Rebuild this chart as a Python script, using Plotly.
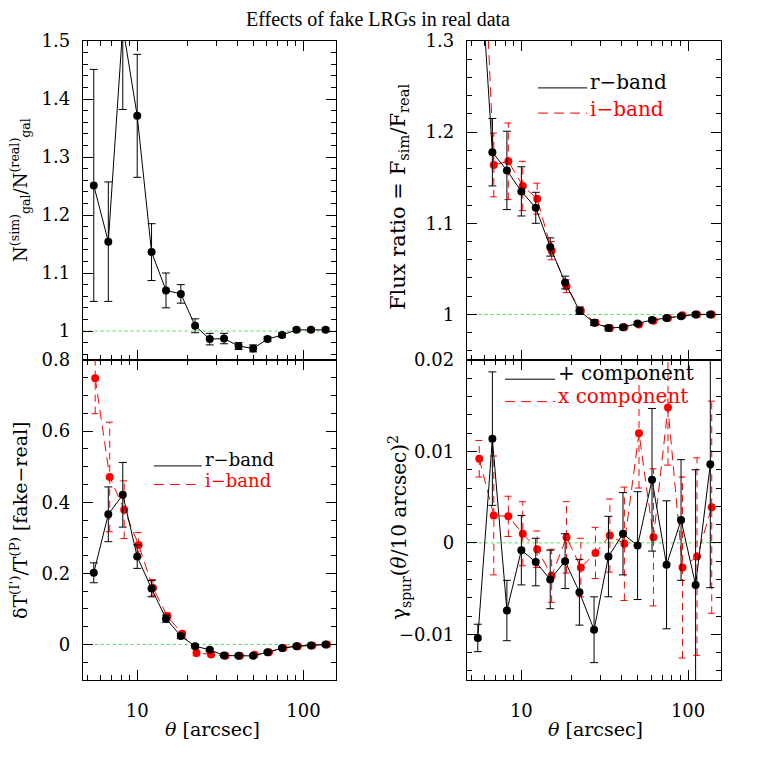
import numpy as np
import plotly.graph_objects as go

# ---------------- data ----------------
theta = [5.48, 6.70, 8.19, 10.0, 12.2, 14.9, 18.3, 22.3, 27.3, 33.3, 40.7, 49.8, 60.8, 74.3, 90.8, 111.0, 136.0]

ngal_ratio = [1.251, 1.154, 1.525, 1.371, 1.136, 1.070, 1.064, 1.009, 0.986, 0.987, 0.974, 0.970, 0.986, 0.993, 1.002, 1.002, 1.002]
ngal_err = [0.200, 0.103, 0.143, 0.106, 0.049, 0.030, 0.016, 0.012, 0.010, 0.009, 0.006, 0.006, 0.004, 0.004, 0.003, 0.003, 0.003]

flux_r = [1.43, 1.178, 1.158, 1.135, 1.117, 1.074, 1.035, 1.004, 0.991, 0.985, 0.986, 0.990, 0.994, 0.996, 0.998, 1.000, 1.000]
flux_r_err = [0.05, 0.037, 0.043, 0.027, 0.017, 0.010, 0.007, 0.004, 0.003, 0.003, 0.002, 0.002, 0.002, 0.002, 0.002, 0.002, 0.002]
flux_i = [1.53, 1.164, 1.168, 1.141, 1.127, 1.070, 1.031, 1.004, 0.991, 0.985, 0.986, 0.989, 0.993, 0.996, 0.999, 1.000, 1.000]
flux_i_err = [0.05, 0.035, 0.042, 0.027, 0.017, 0.010, 0.007, 0.004, 0.003, 0.003, 0.002, 0.002, 0.002, 0.002, 0.002, 0.002, 0.002]

dT_r = [0.2015, 0.366, 0.421, 0.247, 0.157, 0.0725, 0.0235, -0.005, -0.015, -0.031, -0.032, -0.032, -0.022, -0.010, -0.005, -0.003, 0.0]
dT_r_err = [0.028, 0.077, 0.091, 0.033, 0.023, 0.010, 0.007, 0.005, 0.004, 0.004, 0.004, 0.004, 0.003, 0.003, 0.003, 0.003, 0.003]
dT_i = [0.749, 0.471, 0.379, 0.280, 0.159, 0.079, 0.030, -0.024, -0.028, -0.032, -0.032, -0.029, -0.022, -0.010, -0.005, -0.003, 0.0]
dT_i_err = [0.100, 0.154, 0.081, 0.035, 0.023, 0.010, 0.007, 0.008, 0.005, 0.004, 0.004, 0.004, 0.003, 0.003, 0.003, 0.003, 0.003]

gam_plus = [-0.0104, 0.0114, -0.0074, -0.0008, -0.0021, -0.0040, -0.0020, -0.0054, -0.0095, -0.0015, 0.0010, -0.0003, 0.0069, -0.0024, 0.0025, -0.0046, 0.0086]
gam_plus_err = [0.0015, 0.0073, 0.0033, 0.0038, 0.0026, 0.0032, 0.0030, 0.0036, 0.0036, 0.0044, 0.0045, 0.0059, 0.0078, 0.0070, 0.0066, 0.0126, 0.0135]
gam_x = [0.0092, 0.0030, 0.0029, 0.0010, -0.0007, -0.0036, 0.0006, -0.0027, -0.0011, 0.0008, -0.0001, 0.0120, 0.0006, 0.0148, -0.0027, -0.0015, 0.0039]
gam_x_err = [0.0020, 0.0065, 0.0022, 0.0035, 0.0020, 0.0029, 0.0039, 0.0032, 0.0028, 0.0040, 0.0062, 0.0060, 0.0075, 0.0063, 0.0099, 0.0108, 0.0116]

# ---------------- style ----------------
OFF = 8            # page body margin of the browser
W = H = 761 - 2 * OFF
SERIF = "DejaVu Serif"
TICKFONT = dict(family=SERIF, size=18, color="black")
DODGE = 1.02   # slight horizontal offset of the red series
CAPF = 1.055   # cap half-width factor on the log axis
RED = "#ff0000"


def fx(xp):
    return (xp - OFF) / W


def fy(yp):
    return 1 - (yp - OFF) / H


fig = go.Figure()

dom_x = {"L": [fx(82.7), fx(336.0)], "R": [fx(466.7), fx(720.7)]}
dom_y = {"T": [fy(360.0), fy(41.0)], "B": [fy(680.0), fy(360.0)]}


def black_series(xa, ya, x, y, e):
    fig.add_trace(go.Scatter(
        x=x, y=y, mode="lines+markers", xaxis=xa, yaxis=ya,
        line=dict(color="black", width=1),
        marker=dict(color="black", size=8),
        error_y=dict(type="data", array=e, color="black", thickness=1, width=4),
        showlegend=False, cliponaxis=True))


def red_series(xa, ya, x, y, e):
    xr = [v * DODGE for v in x]
    ex, ey = [], []
    for xi, yi, ei in zip(xr, y, e):
        ex += [xi, xi, None, xi / CAPF, xi * CAPF, None, xi / CAPF, xi * CAPF, None]
        ey += [yi - ei, yi + ei, None, yi + ei, yi + ei, None, yi - ei, yi - ei, None]
    fig.add_trace(go.Scatter(
        x=ex, y=ey, mode="lines", xaxis=xa, yaxis=ya,
        line=dict(color=RED, width=1, dash="7px,5px"),
        showlegend=False, hoverinfo="skip"))
    fig.add_trace(go.Scatter(
        x=xr, y=y, mode="lines+markers", xaxis=xa, yaxis=ya,
        line=dict(color=RED, width=1, dash="10px,6px"),
        marker=dict(color=RED, size=8),
        showlegend=False, cliponaxis=True))


# panel 1: top-left
black_series("x", "y", theta, ngal_ratio, ngal_err)
# panel 2: top-right
red_series("x2", "y2", theta, flux_i, flux_i_err)
black_series("x2", "y2", theta, flux_r, flux_r_err)
# panel 3: bottom-left
red_series("x3", "y3", theta, dT_i, dT_i_err)
black_series("x3", "y3", theta, dT_r, dT_r_err)
# panel 4: bottom-right
red_series("x4", "y4", theta, gam_x, gam_x_err)
black_series("x4", "y4", theta, gam_plus, gam_plus_err)

xrange_log = [np.log10(4.7), np.log10(157)]


def xaxis(domain, labels, anchor):
    return dict(type="log", domain=domain, range=xrange_log, anchor=anchor, automargin=False,
                showline=True, linecolor="black", linewidth=1, mirror="allticks",
                ticks="inside", ticklen=10, tickwidth=1, tickcolor="black",
                tickmode="linear", tick0=0, dtick=1,
                showticklabels=labels, tickfont=TICKFONT, ticklabelstandoff=14,
                minor=dict(ticks="inside", ticklen=5, tickwidth=1, tickcolor="black", dtick="D1", showgrid=False),
                showgrid=False, zeroline=False)


def yaxis(domain, rng, tvals, ttext, minor_dtick, anchor):
    return dict(domain=domain, range=rng, anchor=anchor, automargin=False,
                showline=True, linecolor="black", linewidth=1, mirror="allticks",
                ticks="inside", ticklen=10, tickwidth=1, tickcolor="black",
                tickmode="array", tickvals=tvals, ticktext=ttext,
                tickfont=TICKFONT, ticklabelstandoff=8,
                minor=dict(ticks="inside", ticklen=5, tickwidth=1, tickcolor="black",
                           tickmode="linear", tick0=0, dtick=minor_dtick, showgrid=False),
                showgrid=False, zeroline=False)


ytl = [1.0, 1.1, 1.2, 1.3, 1.4, 1.5]
ytl_txt = ["1", "1.1", "1.2", "1.3", "1.4", "1.5"]
ytr = [1.0, 1.1, 1.2, 1.3]
ytr_txt = ["1", "1.1", "1.2", "1.3"]
ybl = [0.0, 0.2, 0.4, 0.6, 0.8]
ybl_txt = ["0", "0.2", "0.4", "0.6", "0.8"]
ybr = [-0.01, 0.0, 0.01, 0.02]
ybr_txt = ["\u22120.01", "0", "0.01", "0.02"]

fig.update_layout(
    width=W, height=H, margin=dict(l=0, r=0, t=0, b=0, pad=0, autoexpand=False),
    paper_bgcolor="white", plot_bgcolor="white",
    xaxis=xaxis(dom_x["L"], False, "y"),
    yaxis=yaxis(dom_y["T"], [0.95, 1.5], ytl, ytl_txt, 0.02, "x"),
    xaxis2=xaxis(dom_x["R"], False, "y2"),
    yaxis2=yaxis(dom_y["T"], [0.95, 1.3], ytr, ytr_txt, 0.02, "x2"),
    xaxis3=xaxis(dom_x["L"], True, "y3"),
    yaxis3=yaxis(dom_y["B"], [-0.1, 0.8], ybl, ybl_txt, 0.05, "x3"),
    xaxis4=xaxis(dom_x["R"], True, "y4"),
    yaxis4=yaxis(dom_y["B"], [-0.015, 0.02], ybr, ybr_txt, 0.002, "x4"),
)

# reference lines (dotted green)
GREEN = "#44dd44"
for xr_, yr_, yv in [("x", "y", 1.0), ("x2", "y2", 1.0), ("x3", "y3", 0.0), ("x4", "y4", 0.0)]:
    fig.add_shape(type="line", xref=f"{xr_} domain", yref=yr_, x0=0, x1=1, y0=yv, y1=yv,
                  line=dict(color=GREEN, width=1, dash="dot"), layer="below")

LEGFONT = 20


def legend_entry(xr_, yr_, x0, x1, yl, yt, text, color, dash, size=LEGFONT):
    fig.add_shape(type="line", xref=f"{xr_} domain", yref=f"{yr_} domain",
                  x0=x0, x1=x1, y0=yl, y1=yl, line=dict(color=color, width=1, dash=dash))
    fig.add_annotation(xref=f"{xr_} domain", yref=f"{yr_} domain", x=x1 + 0.004, y=yt,
                       text=text, showarrow=False, xanchor="left", yanchor="middle",
                       font=dict(family=SERIF, size=size, color=color))


legend_entry("x2", "y2", 0.281, 0.474, 0.853, 0.872, "r\u2212band", "black", "solid")
legend_entry("x2", "y2", 0.281, 0.474, 0.774, 0.787, "i\u2212band", RED, "10px,6px")
legend_entry("x3", "y3", 0.281, 0.470, 0.669, 0.688, "r\u2212band", "black", "solid", 18)
legend_entry("x3", "y3", 0.281, 0.470, 0.611, 0.625, "i\u2212band", RED, "10px,6px", 18)
legend_entry("x4", "y4", 0.151, 0.348, 0.940, 0.958, "+ component", "black", "solid")
legend_entry("x4", "y4", 0.151, 0.348, 0.870, 0.887, "x component", RED, "10px,6px")

# titles
C = dict(xref="paper", yref="paper", showarrow=False, xanchor="center", yanchor="middle")
fig.add_annotation(x=fx(378), y=fy(19), text="Effects of fake LRGs in real data",
                   font=dict(family="Liberation Serif", size=20, color="black"), **C)
for cx in [212, 595]:
    fig.add_annotation(x=fx(cx), y=fy(729), text="<i>\u03b8</i> [arcsec]",
                       font=dict(family=SERIF, size=19, color="black"), **C)

fig.add_annotation(x=fx(20), y=fy(190), textangle=-90,
                   text="N<sup>(sim)</sup><sub>gal</sub>/N<sup>(real)</sup><sub>gal</sub>",
                   font=dict(family=SERIF, size=18, color="black"), **C)
fig.add_annotation(x=fx(399), y=fy(197), textangle=-90,
                   text="Flux ratio = F<sub>sim</sub>/F<sub>real</sub>",
                   font=dict(family=SERIF, size=21, color="black"), **C)
fig.add_annotation(x=fx(19), y=fy(521), textangle=-90,
                   text="\u03b4T<sup>(I')</sup>/T<sup>(P)</sup> [fake\u2212real]",
                   font=dict(family=SERIF, size=19, color="black"), **C)
fig.add_annotation(x=fx(399), y=fy(528), textangle=-90,
                   text="\u03b3<sub>spur</sub>(<i>\u03b8</i>/10 arcsec)<sup>2</sup>",
                   font=dict(family=SERIF, size=20, color="black"), **C)

fig.write_html("out.html")
